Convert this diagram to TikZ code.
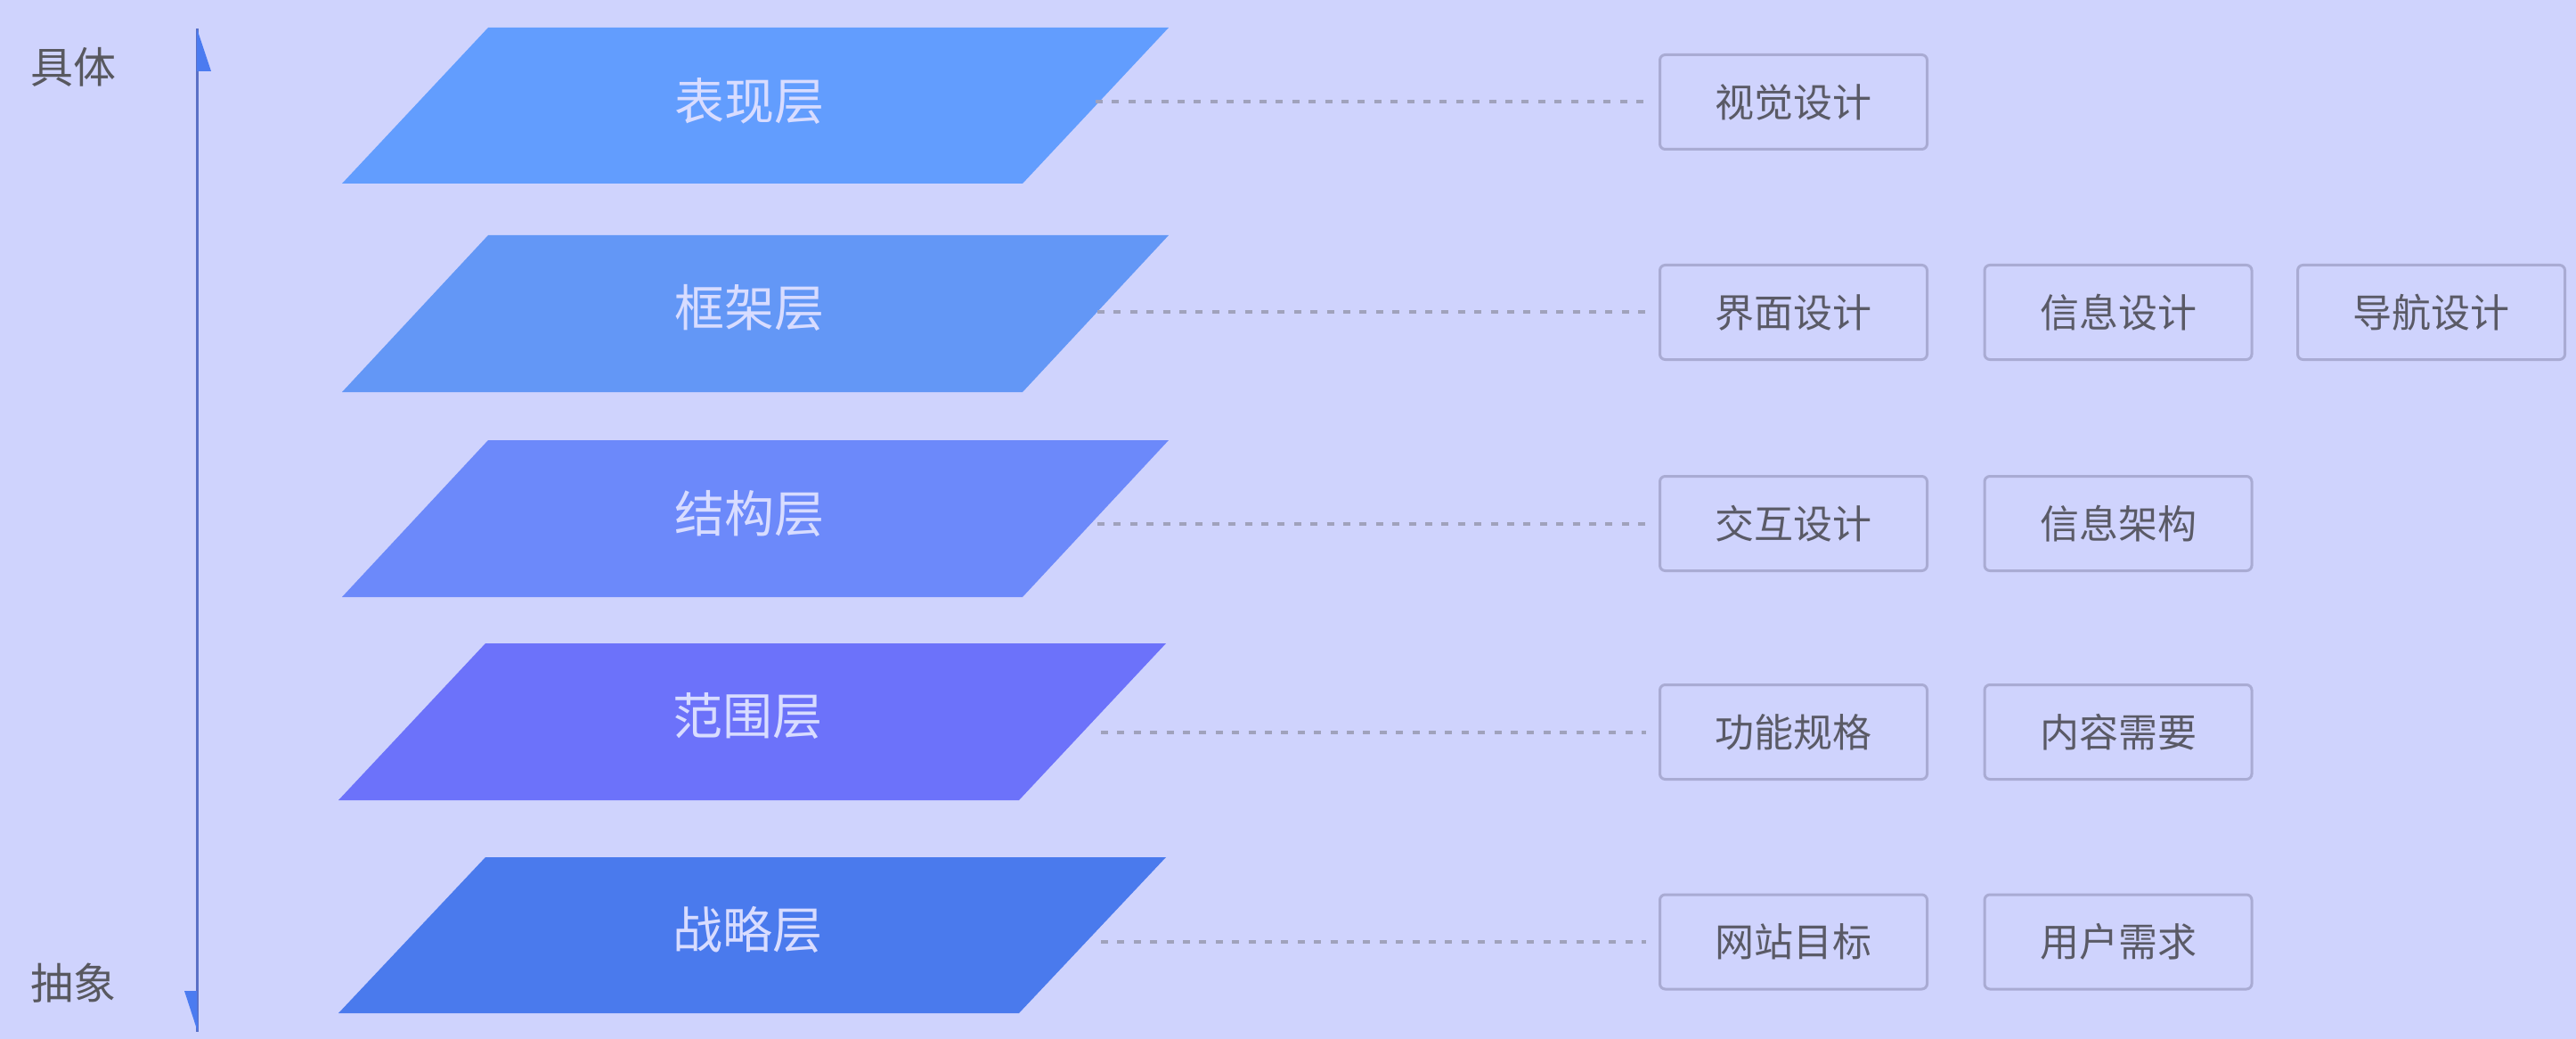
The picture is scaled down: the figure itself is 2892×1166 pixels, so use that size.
\documentclass[tikz,border=0pt]{standalone}
\usepackage{fontspec}
\newfontfamily\cjk{Noto Sans CJK SC}
\definecolor{bg}{HTML}{CFD3FD}
\definecolor{pA}{HTML}{629DFE}
\definecolor{pB}{HTML}{6397F6}
\definecolor{pC}{HTML}{6C89FA}
\definecolor{pD}{HTML}{6C72FA}
\definecolor{pE}{HTML}{4A7AED}
\definecolor{laytext}{HTML}{D8DCFF}
\definecolor{boxline}{HTML}{A9ABD3}
\definecolor{itemtext}{HTML}{5A5A66}
\definecolor{dashc}{HTML}{A0A2BC}
\definecolor{sidetext}{HTML}{58585F}
\definecolor{axisc}{HTML}{5A70C6}
\definecolor{headc}{HTML}{4B7BF0}
\begin{document}
\begin{tikzpicture}[x=0.5pt,y=-0.5pt,
  layertxt/.style={font=\cjk\fontsize{28}{28}\selectfont, text=laytext, inner sep=0pt},
  item/.style={draw=boxline, line width=1.5pt, rounded corners=3pt, fill=bg, minimum width=150pt, minimum height=53pt, inner sep=0pt, font=\cjk\fontsize{22}{22}\selectfont, text=itemtext},
  link/.style={draw=dashc, line width=2pt, dash pattern=on 4pt off 5.2pt},
  side/.style={font=\cjk\fontsize{24}{24}\selectfont, text=sidetext, inner sep=0pt}]
\fill[bg] (0,0) rectangle (2892,1166);
\useasboundingbox (0,0) rectangle (2892,1166);

% axis
\coordinate (axtop) at (221,32);
\coordinate (axbot) at (221,1158);
\draw[axisc, line width=1.5pt] (axtop) -- (axbot);
\fill[headc] (221,32) -- (237,80) -- (221,80) -- cycle;
\fill[headc] (222,1158) -- (207,1112) -- (221,1112) -- cycle;
\node[side] (concrete) at (82,75) {具体};
\node[side] (abstract) at (82,1103) {抽象};

% layers
\fill[pA] (548,31) -- (1312,31) -- (1148,206) -- (384,206) -- cycle;
\fill[pB] (548,264) -- (1312,264) -- (1148,440) -- (384,440) -- cycle;
\fill[pC] (548,494) -- (1312,494) -- (1148,670) -- (384,670) -- cycle;
\fill[pD] (545,722) -- (1309,722) -- (1144,898) -- (380,898) -- cycle;
\fill[pE] (545,962) -- (1309,962) -- (1144,1137) -- (380,1137) -- cycle;
\node[layertxt] (l1) at (841,113) {表现层};
\node[layertxt] (l2) at (841,345) {框架层};
\node[layertxt] (l3) at (841,576) {结构层};
\node[layertxt] (l4) at (839,803) {范围层};
\node[layertxt] (l5) at (839,1043) {战略层};

% items
\node[item] (b11) at (2013.5,114.5) {视觉设计};
\node[item] (b21) at (2013.5,350.5) {界面设计};
\node[item] (b22) at (2378,350.5) {信息设计};
\node[item] (b23) at (2729.5,350.5) {导航设计};
\node[item] (b31) at (2013.5,587.5) {交互设计};
\node[item] (b32) at (2378,587.5) {信息架构};
\node[item] (b41) at (2013.5,821.5) {功能规格};
\node[item] (b42) at (2378,821.5) {内容需要};
\node[item] (b51) at (2013.5,1057) {网站目标};
\node[item] (b52) at (2378,1057) {用户需求};

% links
\coordinate (d1) at (1230,114.5);
\coordinate (d2) at (1232,350.5);
\coordinate (d3) at (1232,587.5);
\coordinate (d4) at (1236,821.5);
\coordinate (d5) at (1236,1057);
\draw[link] (d1) -- ([xshift=-7pt]b11.west);
\draw[link] (d2) -- ([xshift=-7pt]b21.west);
\draw[link] (d3) -- ([xshift=-7pt]b31.west);
\draw[link] (d4) -- ([xshift=-7pt]b41.west);
\draw[link] (d5) -- ([xshift=-7pt]b51.west);
\end{tikzpicture}
\end{document}
